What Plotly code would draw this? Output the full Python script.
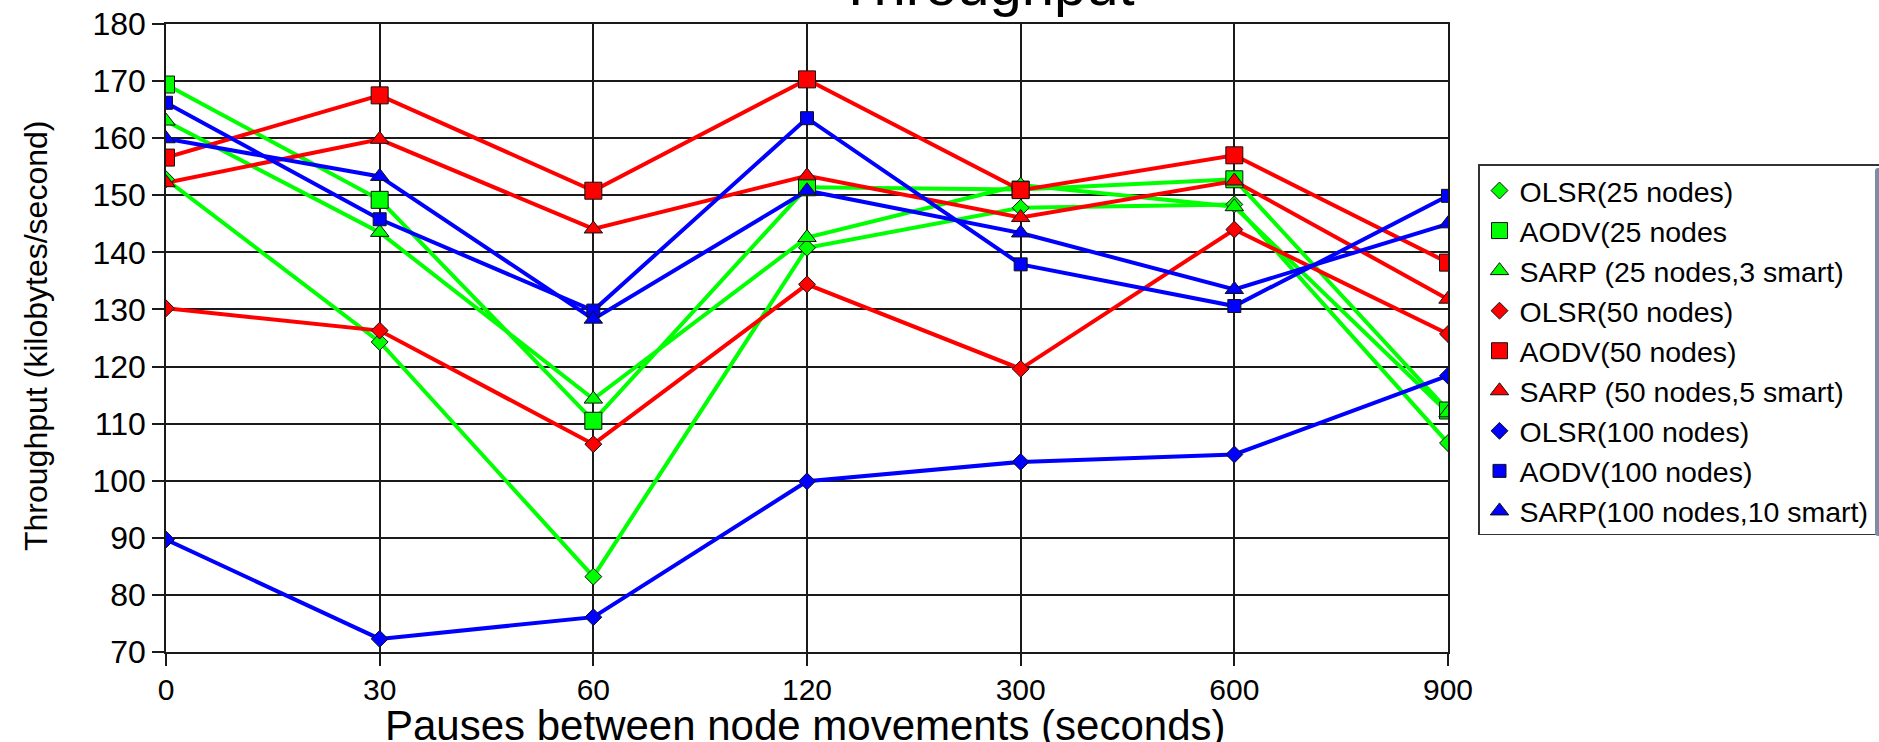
import plotly.graph_objects as go

# ---- data ----
pauses = ["0", "30", "60", "120", "300", "600", "900"]
y_ticks = [70, 80, 90, 100, 110, 120, 130, 140, 150, 160, 170, 180]

olsr_25 = [152.8, 124.3, 83.2, 140.8, 147.8, 148.4, 106.6]
aodv_25 = [169.4, 149.2, 110.5, 151.4, 151.0, 152.8, 112.3]
sarp_25 = [163.0, 143.5, 114.3, 142.6, 151.8, 148.0, 111.9]
olsr_50 = [130.2, 126.3, 106.4, 134.4, 119.6, 144.0, 125.7]
aodv_50 = [156.6, 167.5, 150.8, 170.3, 150.9, 157.0, 138.2]
sarp_50 = [152.2, 159.8, 144.1, 153.4, 146.1, 152.5, 131.8]
olsr_100 = [89.7, 72.3, 76.1, 99.9, 103.3, 104.6, 118.4]
aodv_100 = [166.2, 145.8, 129.8, 163.5, 137.9, 130.6, 149.9]
sarp_100 = [159.9, 153.3, 128.3, 150.8, 143.4, 133.5, 145.0]

names = ["OLSR(25 nodes)", "AODV(25 nodes", "SARP (25 nodes,3 smart)",
         "OLSR(50 nodes)", "AODV(50 nodes)", "SARP (50 nodes,5 smart)",
         "OLSR(100 nodes)", "AODV(100 nodes)", "SARP(100 nodes,10 smart)"]
series = [olsr_25, aodv_25, sarp_25, olsr_50, aodv_50, sarp_50, olsr_100, aodv_100, sarp_100]
colors = ["#00FF00"] * 3 + ["#FF0000"] * 3 + ["#0000FF"] * 3
symbols = ["diamond", "square", "triangle-up"] * 3
sizes = [13, 17, 16, 13, 17, 16, 13, 13, 16]

FONT = "Liberation Sans, Arial, sans-serif"

fig = go.Figure()
for name, ys, c in zip(names, series, colors):
    fig.add_trace(go.Scatter(x=pauses, y=ys, mode="lines", showlegend=False,
                             line=dict(color=c, width=4), hoverinfo="skip"))
for name, ys, c, s, sz in zip(names, series, colors, symbols, sizes):
    fig.add_trace(go.Scatter(x=pauses, y=ys, mode="markers", name=name,
                             marker=dict(color=c, symbol=s, size=sz,
                                         line=dict(color="#111111", width=1))))

L, R, T, B = 166, 1448, 24, 652
W, H = 1879, 742
PW, PH = R - L, B - T

def px(X):
    return (X - L) / PW

def py(Y):
    return (B - Y) / PH

fig.update_layout(
    width=W, height=H,
    margin=dict(l=L, r=W - R, t=T, b=H - B, autoexpand=False),
    paper_bgcolor="white", plot_bgcolor="white",
    font=dict(family=FONT, color="black"),
    xaxis=dict(type="category", range=[0, 6], showgrid=True, gridcolor="#1a1a1a",
               gridwidth=1.5, showline=True, linecolor="#1a1a1a", linewidth=1.5,
               mirror=True, ticks="outside", ticklen=12, tickwidth=1.5,
               tickcolor="#1a1a1a", tickfont=dict(size=30, family=FONT),
               zeroline=False, ticklabelstandoff=-2),
    yaxis=dict(range=[70, 180], tickvals=y_ticks, showgrid=True, gridcolor="#1a1a1a",
               gridwidth=1.5, showline=True, linecolor="#1a1a1a", linewidth=1.5,
               mirror=True, ticks="outside", ticklen=12, tickwidth=1.5,
               tickcolor="#1a1a1a", tickfont=dict(size=32, family=FONT),
               zeroline=False),
    legend=dict(xref="container", yref="container", x=1478 / W, y=1 - 164 / H,
                xanchor="left", yanchor="top", bgcolor="white",
                bordercolor="#333333", borderwidth=1.5,
                font=dict(size=28.5, family=FONT, color="black"),
                tracegroupgap=0),
    showlegend=True,
    annotations=[
        dict(text="Throughput", xref="paper", yref="paper", x=px(986), y=py(19),
             xanchor="center", yanchor="bottom", showarrow=False,
             font=dict(size=58, family=FONT)),
        dict(text="Pauses between node movements (seconds)", xref="paper", yref="paper",
             x=px(805), y=py(725), xanchor="center", yanchor="middle", showarrow=False,
             font=dict(size=42, family=FONT)),
        dict(text="Throughput (kilobytes/second)", xref="paper", yref="paper",
             x=px(36), y=py(336), xanchor="center", yanchor="middle", showarrow=False,
             textangle=-90, font=dict(size=32, family=FONT)),
    ],
)

fig.write_html("out.html")
